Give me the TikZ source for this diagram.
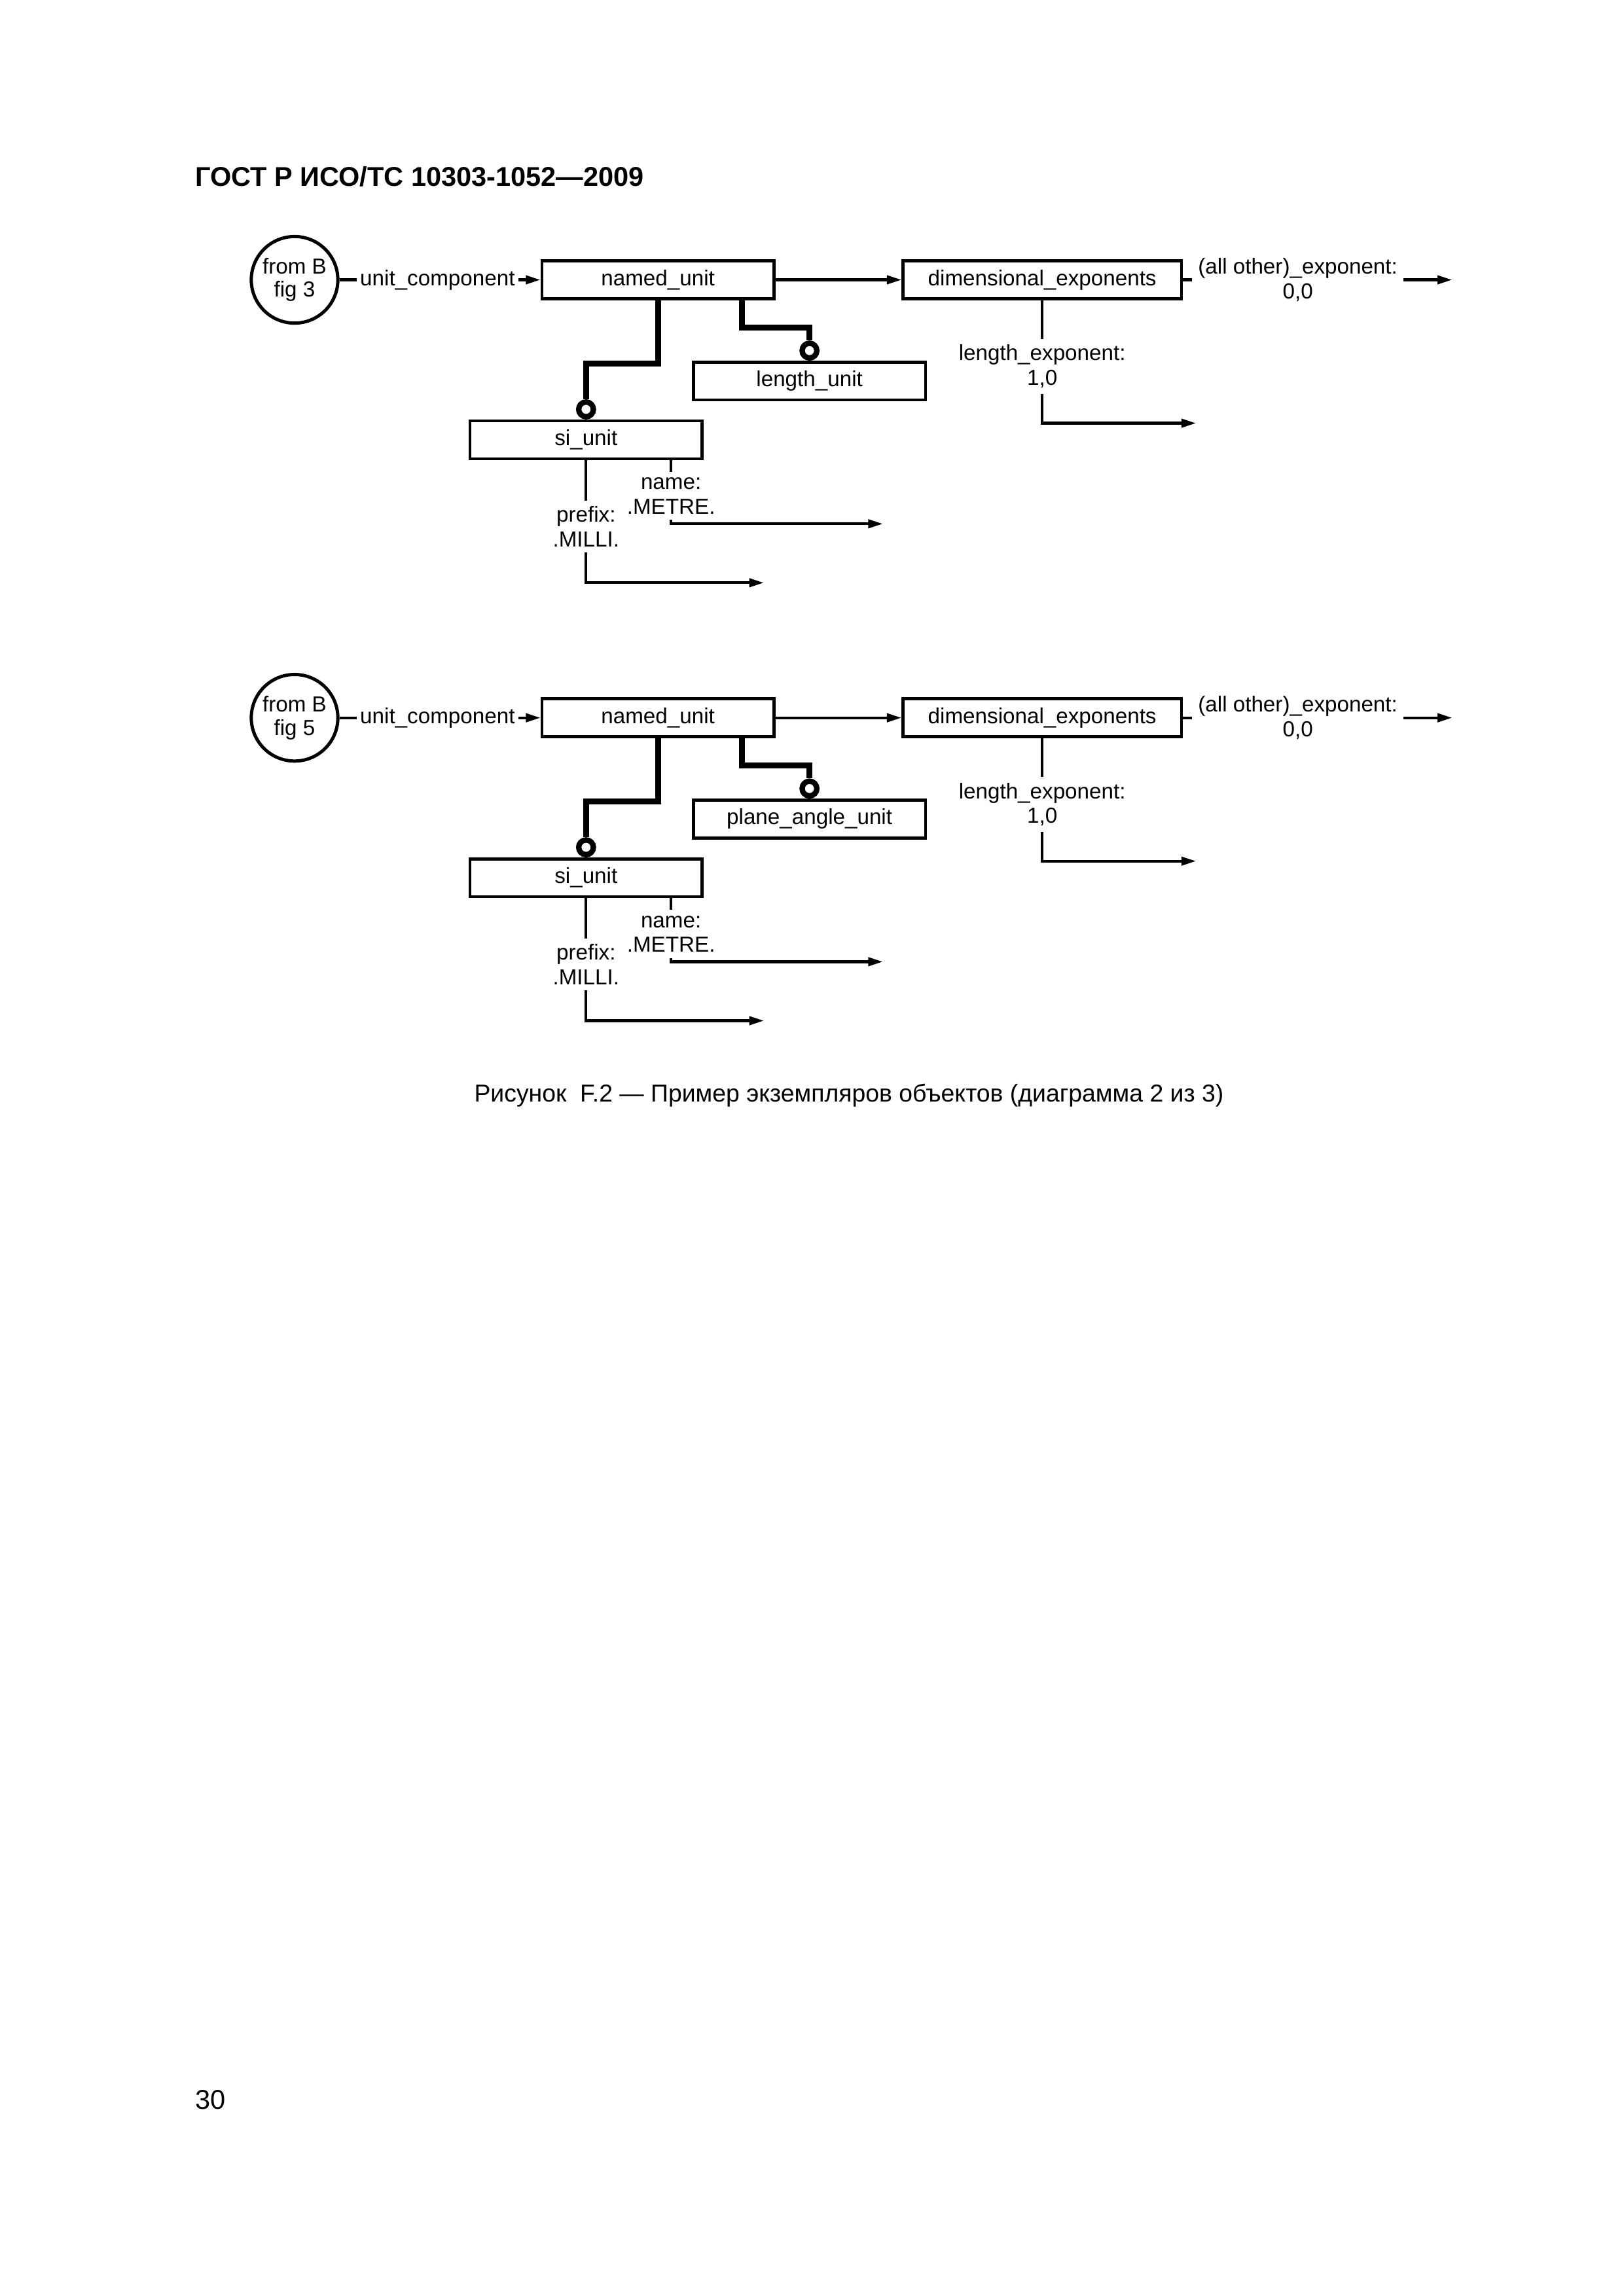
\documentclass[tikz,border=0pt]{standalone}
\usepackage{fontspec}
\setmainfont{Liberation Sans}
\usetikzlibrary{arrows.meta,positioning}

\tikzset{
  entity/.style={draw, line width=1.1pt, minimum width=3cm, minimum height=0.49cm, inner sep=0pt, font=\fontsize{8}{9}\selectfont},
  attrlabel/.style={align=center, inner sep=0.7mm, font=\fontsize{8}{9}\selectfont},
  pageref/.style={circle, draw, line width=1.2pt, minimum size=1.12cm, inner sep=0pt, align=center, font=\fontsize{8}{8.6}\selectfont},
  subline/.style={line width=2.2pt},
  thinline/.style={line width=1pt},
  arr/.style={thinline, -{Triangle[length=1.9mm,width=1.1mm]}},
  ocirc/.style={circle, draw, fill=white, line width=2pt, minimum size=1.9mm, inner sep=0pt}
}

\begin{document}
\begin{tikzpicture}
\useasboundingbox (0,0) rectangle (21,29.7);
% Header
\node[anchor=base west, inner sep=0pt, font=\fontsize{10}{12}\selectfont\bfseries] (head) at (2.52,27.29) {ГОСТ Р ИСО/ТС 10303-1052—2009};
% Two instance diagrams
\foreach \dy/\k/\fg/\sub in {0/a/3/length\_unit, 5.665/b/5/plane\_angle\_unit} {
\begin{scope}[yshift=-\dy cm]
% Entities
\node[pageref] (from\k) at (3.81,26.08) {from B\\fig \fg};
\node[attrlabel, inner sep=0.4mm, right=0.22cm of from\k] (uc\k) {unit\_component};
\node[entity] (named\k) at (8.51,26.08) {named\_unit};
\node[entity, minimum width=3.6cm] (dim\k) at (13.48,26.08) {dimensional\_exponents};
\node[entity] (unit\k) at (10.47,24.77) {\sub};
\node[entity] (si\k) at (7.58,24.01) {si\_unit};
\node[ocirc, above=0pt of si\k] (ocsi\k) {};
\node[ocirc, above=0pt of unit\k] (ocunit\k) {};
% Attribute labels
\node[attrlabel, right=0.12cm of dim\k] (allexp\k) {(all other)\_exponent:\\0,0};
\node[attrlabel, below=0.5cm of dim\k] (lenexp\k) {length\_exponent:\\1,0};
\node[attrlabel, below=0.52cm of si\k] (prefix\k) {prefix:\\.MILLI.};
\node[attrlabel, below=0.15cm of si\k.south east, xshift=-0.42cm] (name\k) {name:\\.METRE.};
\coordinate[right=0.63cm of allexp\k] (allend\k);
\coordinate[below right=0.38cm and 1.99cm of lenexp\k.south] (lenend\k);
\coordinate[below right=0.39cm and 2.3cm of prefix\k.south] (prefend\k);
\coordinate[below right=0.05cm and 2.74cm of name\k.south] (nameend\k);
% Connectors
\draw[thinline] (from\k.east) -- (uc\k.west);
\draw[arr] (uc\k.east) -- (named\k.west);
\draw[arr] (named\k.east) -- (dim\k.west);
\draw[thinline] (dim\k.east) -- (allexp\k.west);
\draw[arr] (allexp\k.east) -- (allend\k);
\draw[thinline] (dim\k.south) -- (lenexp\k.north);
\draw[arr] (lenexp\k.south) |- (lenend\k);
\draw[subline] (named\k.south) -- ++(0,-0.82) -| (ocsi\k.north);
\draw[subline] ([xshift=1.09cm]named\k.south) -- ++(0,-0.355) -| (ocunit\k.north);
\draw[thinline] (si\k.south) -- (prefix\k.north);
\draw[arr] (prefix\k.south) |- (prefend\k);
\draw[thinline] (name\k.north) -- (name\k.north |- si\k.south);
\draw[arr] (name\k.south) |- (nameend\k);
\end{scope}
}
% Caption
\node[anchor=base, font=\fontsize{9}{11}\selectfont] (caption) at (10.98,15.45) {Рисунок~~F.2 — Пример экземпляров объектов (диаграмма 2 из 3)};
% Page number
\node[anchor=base west, inner sep=0pt, font=\fontsize{10}{12}\selectfont] (pagenum) at (2.52,2.42) {30};
\end{tikzpicture}
\end{document}
